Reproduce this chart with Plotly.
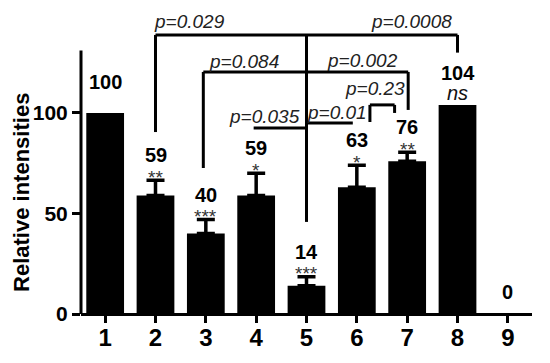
import plotly.graph_objects as go

# ---- data ----
categories = [1, 2, 3, 4, 5, 6, 7, 8, 9]
tick_labels = ["1", "2", "3", "4", "5", "6", "7", "8", "9"]
values = [100, 59, 40, 59, 14, 63, 76, 104, 0]
errors = [0, 7.5, 7, 11, 4.5, 11, 4.5, 0, 0]
value_labels = ["100", "59", "40", "59", "14", "63", "76", "104", "0"]
stars = ["", "**", "***", "*", "***", "*", "**", "ns", ""]
p_values = ["p=0.029", "p=0.0008", "p=0.084", "p=0.002", "p=0.035", "p=0.01", "p=0.23"]

FONT = "Liberation Sans, Arial, sans-serif"

fig = go.Figure()
fig.add_trace(go.Bar(
    x=categories, y=values, width=0.75,
    marker=dict(color="black", line=dict(width=0)),
    hoverinfo="skip",
))

# error bars only where an error exists
ex = [c for c, e in zip(categories, errors) if e > 0]
ey = [v for v, e in zip(values, errors) if e > 0]
ee = [e for e in errors if e > 0]
fig.add_trace(go.Scatter(
    x=ex, y=ey, mode="markers", marker=dict(size=1, color="black", opacity=0),
    error_y=dict(type="data", array=ee, arrayminus=[0]*len(ee),
                 color="black", thickness=3.5, width=9, visible=True),
    hoverinfo="skip",
))

ann = []
for c, v, e, lab, s in zip(categories, values, errors, value_labels, stars):
    top = v + e
    if s == "ns":
        ann.append(dict(x=c, y=top, text="<i>ns</i>", showarrow=False, yshift=12,
                        font=dict(family=FONT, size=20, color="#111")))
        num_shift = 32
    elif s:
        ann.append(dict(x=c, y=top, text=s, showarrow=False, yshift=3,
                        font=dict(family=FONT, size=19, color="#333")))
        num_shift = 25
    else:
        num_shift = 31 if v > 0 else 22
    ann.append(dict(x=c, y=top, text="<b>" + lab + "</b>", showarrow=False, yshift=num_shift,
                    font=dict(family=FONT, size=20, color="black")))

# p-value texts
pfont = dict(family=FONT, size=19, color="#222")
ann += [
    dict(x=1.93, y=145.3, text="<i>" + p_values[0] + "</i>", xanchor="left", showarrow=False, font=pfont),
    dict(x=7.94, y=145.3, text="<i>" + p_values[1] + "</i>", xanchor="right", showarrow=False, font=pfont),
    dict(x=3.02, y=125.4, text="<i>" + p_values[2] + "</i>", xanchor="left", showarrow=False, font=pfont),
    dict(x=6.85, y=126.0, text="<i>" + p_values[3] + "</i>", xanchor="right", showarrow=False, font=pfont),
    dict(x=4.91, y=98.0, text="<i>" + p_values[4] + "</i>", xanchor="right", showarrow=False, font=pfont),
    dict(x=4.97, y=100.0, text="<i>" + p_values[5] + "</i>", xanchor="left", showarrow=False, font=pfont),
    dict(x=6.99, y=112.0, text="<i>" + p_values[6] + "</i>", xanchor="right", showarrow=False, font=pfont),
]

# y-axis title
ann.append(dict(xref="paper", yref="paper", x=-0.164, y=0.40, text="<b>Relative intensities</b>",
                textangle=-90, showarrow=False, font=dict(family=FONT, size=22, color="black")))

LW = 3
line = dict(color="black", width=LW)
shapes = [
    # y-axis line
    dict(type="line", xref="paper", yref="y", x0=0, x1=0, y0=0, y1=131, line=line),
    # big bracket 2 - 5 - 8
    dict(type="line", x0=2, x1=8, y0=138.8, y1=138.8, line=line),
    dict(type="line", x0=2, x1=2, y0=138.8, y1=90.5, line=line),
    dict(type="line", x0=8, x1=8, y0=138.8, y1=130, line=line),
    dict(type="line", x0=5, x1=5, y0=138.8, y1=45.8, line=line),
    # bracket 3 - 5 - 7
    dict(type="line", x0=2.95, x1=7.02, y0=120.4, y1=120.4, line=line),
    dict(type="line", x0=2.95, x1=2.95, y0=120.4, y1=72.6, line=line),
    dict(type="line", x0=7.02, x1=7.02, y0=120.4, y1=101.5, line=line),
    # 4 - 5
    dict(type="line", x0=3.95, x1=5, y0=92.5, y1=92.5, line=line),
    # 5 - 6
    dict(type="line", x0=5, x1=5.92, y0=95, y1=95, line=line),
    # 6 - 7 small bracket
    dict(type="line", x0=6.26, x1=6.75, y0=104, y1=104, line=line),
    dict(type="line", x0=6.26, x1=6.26, y0=104, y1=95.5, line=line),
    dict(type="line", x0=6.75, x1=6.75, y0=104, y1=100, line=line),
]

# page body keeps its default 8px margin, so the figure is 8px smaller
fig.update_layout(
    width=542, height=355,
    margin=dict(l=73, r=18, t=2, b=49),
    paper_bgcolor="white", plot_bgcolor="white",
    showlegend=False,
    annotations=ann, shapes=shapes,
    font=dict(family=FONT, color="black"),
)
fig.update_xaxes(
    range=[0.52, 9.48], tickvals=categories, ticktext=["<b>" + t + "</b>" for t in tick_labels],
    showline=False,
    ticks="outside", ticklen=8, tickwidth=LW, tickcolor="black",
    tickfont=dict(family=FONT, size=24, color="black"),
    showgrid=False, zeroline=False, ticklabelstandoff=-6, automargin=False,
)
fig.update_yaxes(
    range=[0, 151.2], tickvals=[0, 50, 100], ticktext=["<b>0</b>", "<b>50</b>", "<b>100</b>"],
    showline=False, ticks="outside", ticklen=8, tickwidth=LW, tickcolor="black",
    tickfont=dict(family=FONT, size=21, color="black"),
    showgrid=False, zeroline=True, zerolinecolor="black", zerolinewidth=LW, automargin=False,
)

fig.write_html("out.html")
